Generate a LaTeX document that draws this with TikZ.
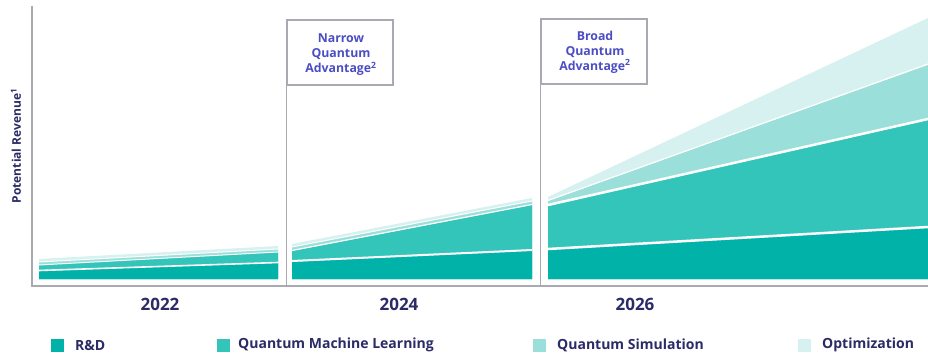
\documentclass[tikz,border=0pt]{standalone}
\usepackage{fontspec}
\setmainfont{Open Sans}
\definecolor{rd}{HTML}{00B2A7}
\definecolor{qml}{HTML}{33C4BA}
\definecolor{sim}{HTML}{9ADFD9}
\definecolor{opt}{HTML}{D6F1EF}
\definecolor{navy}{HTML}{2B2B66}
\definecolor{blu}{HTML}{4B4DC3}
\definecolor{axisgray}{HTML}{A9A9B2}
\begin{document}
\begin{tikzpicture}[x=1pt,y=-1pt,
  axisline/.style={draw=axisgray,line width=2pt},
  divline/.style={draw=axisgray,line width=1.3pt},
  sep/.style={draw=white,line width=2pt},
  advbox/.style={draw=axisgray,line width=1.3pt,fill=white,minimum width=106pt,minimum height=65pt,inner sep=0pt},
  advtext/.style={inner sep=0pt,align=center,text=blu,font=\fontsize{12.3}{15}\selectfont\bfseries},
  yearlbl/.style={text=navy,font=\fontsize{17}{20}\selectfont\bfseries},
  leglbl/.style={text=navy,anchor=west,inner sep=0pt,font=\fontsize{14}{16}\selectfont\bfseries},
  legsq/.style={minimum width=13pt,minimum height=13pt,inner sep=0pt}]
\useasboundingbox (0,0) rectangle (928,361);
\fill[white] (0,0) rectangle (928,361);

% segment 1
\fill[opt] (39,279) -- (39,259) -- (278,246) -- (278,279) -- cycle;
\fill[sim] (39,279) -- (39,262) -- (278,249) -- (278,279) -- cycle;
\fill[qml] (39,279) -- (39,265) -- (278,252) -- (278,279) -- cycle;
\fill[rd]  (39,279) -- (39,271) -- (278,263) -- (278,279) -- cycle;
\draw[sep,line width=1pt] (39,262) -- (278,249);
\draw[sep,line width=1pt] (39,265) -- (278,252);
\draw[sep,line width=1.6pt] (39,270.5) -- (278,262.5);

% segment 2
\fill[opt] (292,279) -- (292,244) -- (532,198) -- (532,279) -- cycle;
\fill[sim] (292,279) -- (292,247) -- (532,201) -- (532,279) -- cycle;
\fill[qml] (292,279) -- (292,251) -- (532,205) -- (532,279) -- cycle;
\fill[rd]  (292,279) -- (292,262) -- (532,251) -- (532,279) -- cycle;
\draw[sep,line width=1pt] (292,247) -- (532,201);
\draw[sep,line width=1.2pt] (292,250.5) -- (532,204.5);
\draw[sep] (292,261) -- (532,250);

% segment 3
\fill[opt] (548,279) -- (548,197) -- (928,18) -- (928,279) -- cycle;
\fill[sim] (548,279) -- (548,201) -- (928,65) -- (928,279) -- cycle;
\fill[qml] (548,279) -- (548,206) -- (928,120) -- (928,279) -- cycle;
\fill[rd]  (548,279) -- (548,250) -- (928,228) -- (928,279) -- cycle;
\draw[sep,line width=1.2pt] (548,200.5) -- (928,64);
\draw[sep,line width=2.5pt] (548,205) -- (928,119);
\draw[sep,line width=2.5pt] (548,249) -- (928,227);

% axes
\coordinate (ytop) at (32,6);
\coordinate (origin) at (32,286);
\coordinate (xend) at (928,286);
\draw[axisline] (ytop) -- (origin) -- (xend);

% advantage boxes
\node[advbox] (narrow) at (340,52.5) {};
\node[advtext] (narrowtxt) at (341,55) {Narrow\\Quantum\\Advantage\textsuperscript{2}};
\node[advbox] (broad) at (594,51.5) {};
\node[advtext] (broadtxt) at (595,52) {Broad\\Quantum\\Advantage\textsuperscript{2}};
\draw[divline] (narrow.south west) -- (narrow.south west |- origin);
\draw[divline] (broad.south west) -- (broad.south west |- origin);

% y label
\node[text=navy,rotate=90,font=\fontsize{12}{14}\selectfont\bfseries] (ylabel) at (16,146) {Potential Revenue\textsuperscript{1}};

% years
\node[yearlbl] (y2022) at (160,304) {2022};
\node[yearlbl] (y2024) at (399,304) {2024};
\node[yearlbl] (y2026) at (635,304) {2026};

% legend
\node[legsq,fill=rd] (sqrd) at (57.5,345.5) {};
\node[leglbl] (lrd) at (75,345) {R\&D};
\node[legsq,fill=qml] (sqqml) at (223.5,345.5) {};
\node[leglbl] (lqml) at (238,345) {Quantum Machine Learning};
\node[legsq,fill=sim] (sqsim) at (539.5,345.5) {};
\node[leglbl] (lsim) at (557,345) {Quantum Simulation};
\node[legsq,fill=opt] (sqopt) at (804,345.5) {};
\node[leglbl] (lopt) at (822,345) {Optimization};
\end{tikzpicture}
\end{document}
